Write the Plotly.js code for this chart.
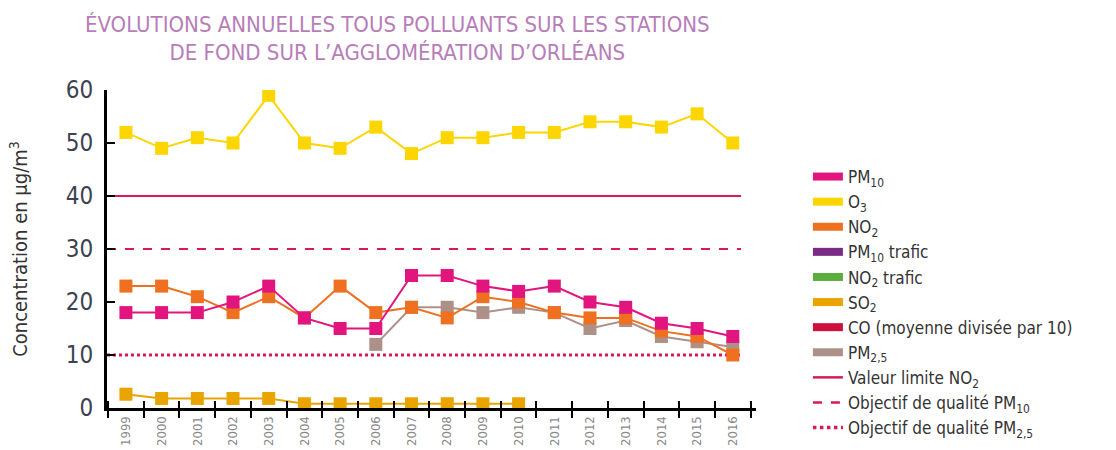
<!DOCTYPE html>
<html>
<head>
<meta charset="utf-8">
<script src="https://cdn.plot.ly/plotly-3.0.1.min.js"></script>
<style>html,body{margin:0;padding:0;background:#fff;}#chart{width:1116px;height:450px;}</style>
</head>
<body>
<div id="chart"></div>
<script>
const years = ['1999','2000','2001','2002','2003','2004','2005','2006','2007','2008','2009','2010','2011','2012','2013','2014','2015','2016'];
const o3   = [52,49,51,50,59,50,49,53,48,51,51,52,52,54,54,53,55.5,50];
const pm10 = [18,18,18,20,23,17,15,15,25,25,23,22,23,20,19,16,15,13.5];
const no2  = [23,23,21,18,21,17,23,18,19,17,21,20,18,17,17,14.5,13.5,10];
const so2  = [2.6,1.8,1.8,1.8,1.8,0.8,0.8,0.8,0.8,0.8,0.8,0.8,null,null,null,null,null,null];
const pm25 = [null,null,null,null,null,null,null,12,19,19,18,19,18,15,16.5,13.5,12.5,11.5];
const limitNames = ['Valeur limite NO<sub>2</sub>','Objectif de qualité PM<sub>10</sub>','Objectif de qualité PM<sub>2,5</sub>'];
const limitValues = [40,30,10];
const limitDash = ['solid','dash','dot'];
const legendNames = ['PM<sub>10</sub>','O<sub>3</sub>','NO<sub>2</sub>','PM<sub>10</sub> trafic','NO<sub>2</sub> trafic','SO<sub>2</sub>','CO (moyenne divisée par 10)','PM<sub>2,5</sub>'];
const legendColors = ['#e2157f','#fdd500','#ee7020','#7b2a86','#5aac3c','#e9a400','#cf0f3e','#ad9189'];

const C = {pm10:'#e2157f', o3:'#fdd500', no2:'#ee7020', so2:'#e9a400', pm25:'#ad9189', lim:'#d81b55'};
const FONT = '"DejaVu Sans Condensed", "DejaVu Sans", sans-serif';

function series(y, color){
  return {x: years, y: y, type:'scatter', mode:'lines+markers', showlegend:false,
    line:{color:color, width:2}, marker:{symbol:'square', size:13, color:color},
    connectgaps:false, hoverinfo:'skip'};
}
const traces = [
  series(pm25, C.pm25),
  series(no2, C.no2),
  series(pm10, C.pm10),
  series(o3, C.o3),
  series(so2, C.so2)
];
// legend-only entries (no drawn data)
legendNames.forEach((n,i)=>{
  traces.push({x:[years[0]], y:[null], type:'scatter', mode:'lines', name:n, showlegend:true,
    line:{color:legendColors[i], width:8}, hoverinfo:'skip'});
});
limitNames.forEach((n,i)=>{
  traces.push({x:[years[0]], y:[null], type:'scatter', mode:'lines', name:n, showlegend:true,
    line:{color:C.lim, width: limitDash[i]==='dot'?3.5:2.5, dash:limitDash[i]}, hoverinfo:'skip'});
});
// overlay axis carrying the inner half of the crossing x ticks
traces.push({x: years, y: years.map(()=>null), xaxis:'x2', yaxis:'y', showlegend:false, hoverinfo:'skip', type:'scatter', mode:'lines'});

const shapes = limitValues.map((v,i)=>({
  type:'line', xref:'x domain', yref:'y', x0:0, x1:0.977, y0:v, y1:v,
  line:{color:C.lim, width: limitDash[i]==='dot'?3:1.8, dash:limitDash[i]}, layer:'below'
}));

const layout = {
  width:1116, height:450,
  paper_bgcolor:'#fff', plot_bgcolor:'#fff',
  margin:{l:107, r:360, t:90, b:42, autoexpand:false},
  font:{family:FONT, color:'#333'},
  title:{text:'ÉVOLUTIONS ANNUELLES TOUS POLLUANTS SUR LES STATIONS<br>DE FOND SUR L\u2019AGGLOMÉRATION D\u2019ORLÉANS',
    x:0.356, xref:'container', xanchor:'center', y:0.93, yref:'container', yanchor:'middle',
    font:{family:FONT, size:22, color:'#b77db8'}},
  xaxis:{type:'category', categoryarray:years, range:[-0.53,17.65], tickson:'boundaries',
    ticks:'outside', ticklen:7, tickwidth:2, tickcolor:'#000',
    showline:true, linecolor:'#000', linewidth:3, showgrid:false, zeroline:false,
    tickangle:-90, tickfont:{size:13, color:'#8a8a8a', family:FONT}},
  xaxis2:{type:'category', categoryarray:years, matches:'x', overlaying:'x', tickson:'boundaries',
    ticks:'inside', ticklen:7, tickwidth:2, tickcolor:'#000', showticklabels:false,
    showline:false, showgrid:false, zeroline:false},
  yaxis:{range:[0,60], dtick:10, ticks:'inside', ticklen:8, tickwidth:2, tickcolor:'#000',
    showline:true, linecolor:'#000', linewidth:3, showgrid:false, zeroline:false,
    ticklabelstandoff:6, tickfont:{size:24, color:'#3d4350', family:FONT},
    title:{text:'Concentration en µg/m<sup>3</sup>', font:{size:20, color:'#333', family:FONT}, standoff:33}},
  legend:{x:1.08, xanchor:'left', y:0.783, yanchor:'top', bgcolor:'rgba(0,0,0,0)',
    font:{size:17, color:'#333', family:FONT}, tracegroupgap:0, itemwidth:30, maxheight:420},
  shapes: shapes
};
Plotly.newPlot('chart', traces, layout, {staticPlot:true, displayModeBar:false});
</script>
</body>
</html>
